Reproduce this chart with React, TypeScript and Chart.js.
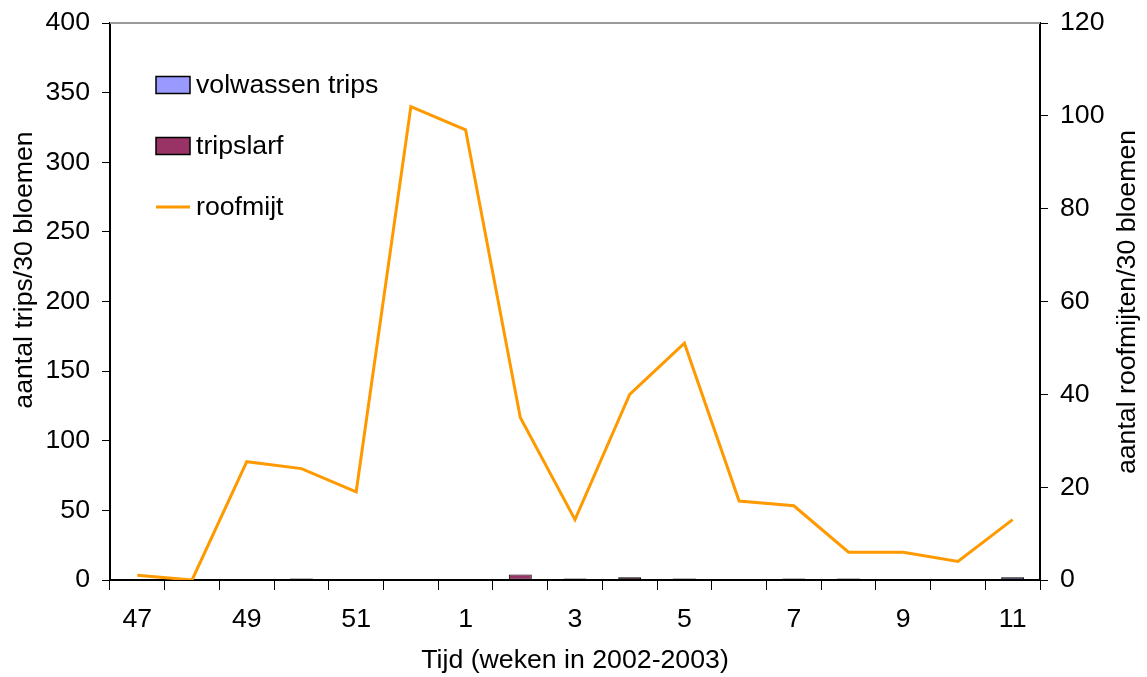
import React, { useEffect, useRef } from 'react';
import { Chart, registerables } from 'chart.js';

Chart.register(...registerables);

// Week numbers along the horizontal axis (season 2002-2003)
const weeks = ['47', '48', '49', '50', '51', '52', '1', '2', '3', '4', '5', '6', '7', '8', '9', '10', '11'];

// Counts per 30 flowers
const adultThrips = [0, 0, 0, 1, 0, 0, 0, 0, 1, 0, 1, 0, 1, 1, 0, 0, 2];
const thripsLarvae = [0, 0, 0, 0, 0, 0, 0, 4, 0, 2, 0, 0, 0, 0, 0, 0, 0];
const predatoryMites = [1, 0, 25.5, 24, 19, 102, 97, 35, 13, 40, 51, 17, 16, 6, 6, 4, 13];

// Axis ranges
const leftMax = 400;
const leftStep = 50;
const rightMax = 120;
const rightStep = 20;

const seriesNames = ['volwassen trips', 'tripslarf', 'roofmijt'];
const xTitle = 'Tijd (weken in 2002-2003)';
const leftTitle = 'aantal trips/30 bloemen';
const rightTitle = 'aantal roofmijten/30 bloemen';

const FONT_FAMILY = '"Liberation Sans", Arial, Helvetica, sans-serif';
const FONT_SIZE = 26.7;

const decorations = {
  id: 'decorations',
  afterDraw(chart: any) {
    const { ctx, chartArea: a } = chart;
    ctx.save();

    // grey frame line along the top of the plot
    ctx.strokeStyle = '#9a9a9a';
    ctx.lineWidth = 2;
    ctx.beginPath();
    ctx.moveTo(a.left, a.top);
    ctx.lineTo(a.right, a.top);
    ctx.stroke();

    // legend inside the plot area
    ctx.font = `${FONT_SIZE}px ${FONT_FAMILY}`;
    ctx.textAlign = 'left';
    ctx.textBaseline = 'middle';
    const boxX = a.left + 46;
    const boxW = 34;
    const boxH = 17;
    const rowGap = 61;
    const firstRow = a.top + 62;
    chart.data.datasets.forEach((ds: any, i: number) => {
      const cy = firstRow + i * rowGap;
      if (ds.type === 'line') {
        ctx.strokeStyle = ds.borderColor;
        ctx.lineWidth = 3;
        ctx.beginPath();
        ctx.moveTo(boxX, cy);
        ctx.lineTo(boxX + boxW, cy);
        ctx.stroke();
      } else {
        ctx.fillStyle = ds.backgroundColor;
        ctx.fillRect(boxX, cy - boxH / 2, boxW, boxH);
        ctx.strokeStyle = '#000';
        ctx.lineWidth = 1.5;
        ctx.strokeRect(boxX, cy - boxH / 2, boxW, boxH);
      }
      ctx.fillStyle = '#000';
      ctx.fillText(ds.label, boxX + boxW + 6, cy + 1);
    });

    // vertical axis titles, both reading bottom to top
    ctx.textAlign = 'center';
    ctx.fillStyle = '#000';
    ctx.save();
    ctx.translate(25, 270);
    ctx.rotate(-Math.PI / 2);
    ctx.fillText(leftTitle, 0, 0);
    ctx.restore();
    ctx.save();
    ctx.translate(1128, 302);
    ctx.rotate(-Math.PI / 2);
    ctx.fillText(rightTitle, 0, 0);
    ctx.restore();

    ctx.restore();
  },
};

// Fixed axis box sizes so the plot area sits where it should
const fixWidth = (w: number) => (scale: any) => {
  scale.width = w;
  scale.paddingTop = 0;
  scale.paddingBottom = 0;
};

export default function App() {
  const canvasRef = useRef<HTMLCanvasElement | null>(null);

  useEffect(() => {
    if (!canvasRef.current) return;
    Chart.defaults.font.family = FONT_FAMILY;
    Chart.defaults.font.size = FONT_SIZE;
    Chart.defaults.color = '#000';

    const chart = new Chart(canvasRef.current, {
      type: 'bar',
      data: {
        labels: weeks,
        datasets: [
          {
            type: 'bar',
            label: seriesNames[0],
            data: adultThrips,
            backgroundColor: '#9999FF',
            borderColor: '#000',
            borderWidth: 1,
            borderSkipped: false,
            yAxisID: 'y',
            order: 1,
          },
          {
            type: 'bar',
            label: seriesNames[1],
            data: thripsLarvae,
            backgroundColor: '#993366',
            borderColor: '#000',
            borderWidth: 1,
            borderSkipped: false,
            yAxisID: 'y',
            order: 1,
          },
          {
            type: 'line',
            label: seriesNames[2],
            data: predatoryMites,
            borderColor: '#FF9900',
            backgroundColor: '#FF9900',
            borderWidth: 3,
            pointRadius: 0,
            tension: 0,
            yAxisID: 'y1',
            order: 0,
          },
        ],
      },
      options: {
        animation: false,
        responsive: true,
        maintainAspectRatio: false,
        layout: { padding: { top: 23, left: 0, right: 0, bottom: 0 } },
        datasets: {
          bar: { categoryPercentage: 1, barPercentage: 0.42 },
        },
        plugins: {
          legend: { display: false },
          tooltip: { enabled: false },
        },
        scales: {
          x: {
            stacked: true,
            offset: true,
            grid: {
              offset: true,
              drawOnChartArea: false,
              drawTicks: true,
              tickLength: 10,
              color: '#000',
              lineWidth: 1,
            },
            border: { display: true, color: '#000', width: 2 },
            ticks: {
              autoSkip: false,
              maxRotation: 0,
              padding: 14,
              callback: function (this: any, value: any, index: number) {
                return index % 2 === 0 ? weeks[index] : '';
              },
            },
            title: {
              display: true,
              text: xTitle,
              padding: { top: 0, bottom: 0 },
            },
            afterFit(scale: any) {
              scale.height = 97;
            },
          },
          y: {
            type: 'linear',
            position: 'left',
            stacked: true,
            min: 0,
            max: leftMax,
            ticks: { stepSize: leftStep, padding: 12 },
            grid: {
              drawOnChartArea: false,
              drawTicks: true,
              tickLength: 8,
              color: '#000',
            },
            border: { display: true, color: '#000', width: 2 },
            afterFit: fixWidth(110),
          },
          y1: {
            type: 'linear',
            position: 'right',
            min: 0,
            max: rightMax,
            ticks: { stepSize: rightStep, padding: 12 },
            grid: {
              drawOnChartArea: false,
              drawTicks: true,
              tickLength: 8,
              color: '#000',
            },
            border: { display: true, color: '#000', width: 2 },
            afterFit: fixWidth(107),
          },
        },
      },
      plugins: [decorations],
    });

    return () => chart.destroy();
  }, []);

  return (
    <div style={{ position: 'fixed', left: 0, top: 0, width: 1147, height: 677, background: '#fff' }}>
      <canvas ref={canvasRef} />
    </div>
  );
}
